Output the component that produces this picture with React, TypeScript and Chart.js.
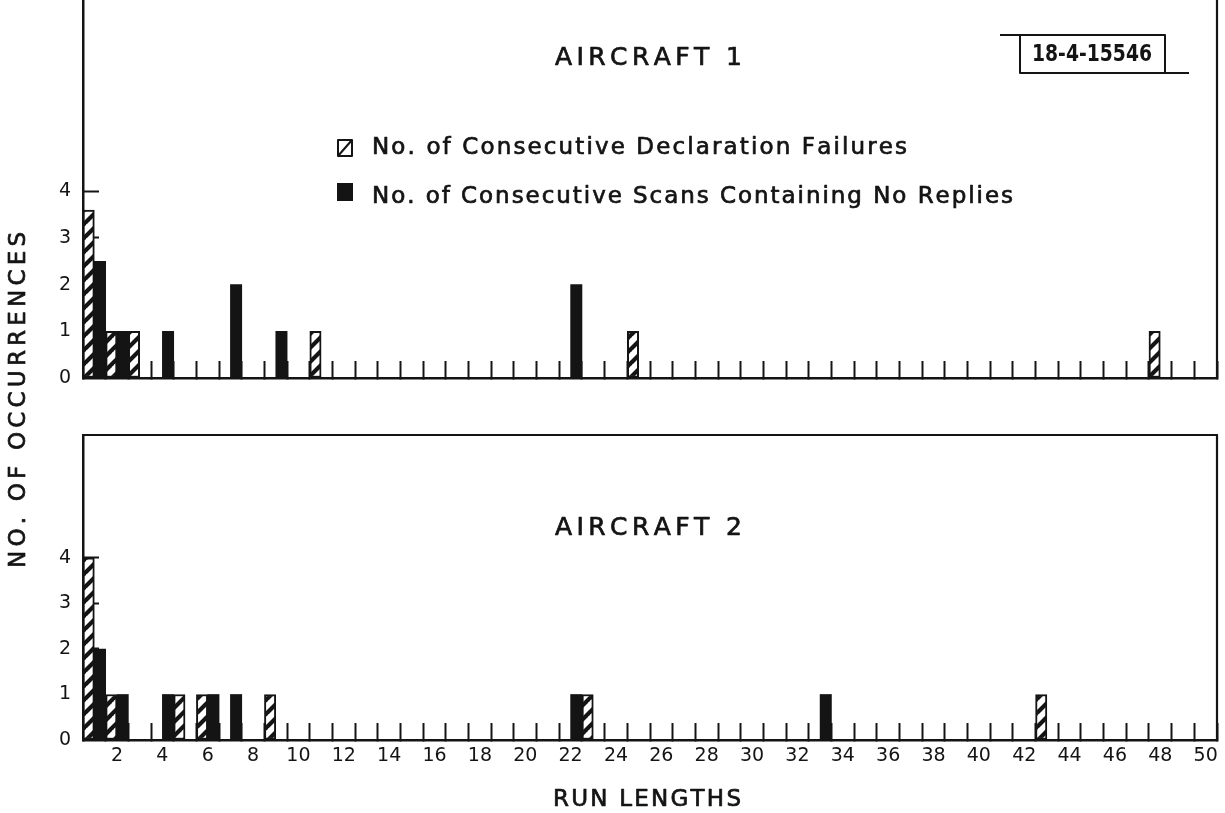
import React, { useEffect, useRef } from 'react';
import { Chart, registerables } from 'chart.js';

Chart.register(...registerables);

// One slot per run length along the horizontal axis
const runLengths = [
  1, 2, 3, 4, 5, 6, 7, 8, 9, 10, 11, 12, 13, 14, 15, 16, 17, 18, 19, 20, 21, 22, 23, 24, 25,
  26, 27, 28, 29, 30, 31, 32, 33, 34, 35, 36, 37, 38, 39, 40, 41, 42, 43, 44, 45, 46, 47, 48, 49, 50,
];
const runLengthTicks = [2, 4, 6, 8, 10, 12, 14, 16, 18, 20, 22, 24, 26, 28, 30, 32, 34, 36, 38, 40, 42, 44, 46, 48, 50];
const occurrenceTicks = [0, 1, 2, 3, 4];

// [run length, number of occurrences]
const aircraft1Failures: Array<[number, number]> = [[1, 3.6], [2, 1], [3, 1], [11, 1], [25, 1], [48, 1]];
const aircraft1NoReplies: Array<[number, number]> = [[1, 2.5], [2, 1], [4, 1], [7, 2], [9, 1], [22, 2]];
const aircraft2Failures: Array<[number, number]> = [[1, 4], [2, 1], [5, 1], [6, 1], [9, 1], [23, 1], [43, 1]];
const aircraft2NoReplies: Array<[number, number]> = [[1, 2], [2, 1], [4, 1], [6, 1], [7, 1], [22, 1], [33, 1]];

const chartTitles = ['AIRCRAFT 1', 'AIRCRAFT 2'];
const seriesLabels = ['No. of Consecutive Declaration Failures', 'No. of Consecutive Scans Containing No Replies'];
const yAxisTitle = 'NO. OF OCCURRENCES';
const xAxisTitle = 'RUN LENGTHS';
const drawingNumber = '18-4-15546';

const W = 1225;
const H = 813;
const PLOT_LEFT = 83;
const PLOT_RIGHT = 1217;
const INK = '#141414';
const FONT = "'DejaVu Sans', 'Noto Sans', sans-serif";

function toSeries(pairs: Array<[number, number]>): Array<number | null> {
  return runLengths.map((n) => {
    const hit = pairs.find(([r]) => r === n);
    return hit ? hit[1] : null;
  });
}

function makeHatch(canvas: HTMLCanvasElement): CanvasPattern | string {
  const s = 14;
  const tile = document.createElement('canvas');
  tile.width = s;
  tile.height = s;
  const g = tile.getContext('2d');
  const host = canvas.getContext('2d');
  if (!g || !host) return '#fff';
  g.fillStyle = '#fff';
  g.fillRect(0, 0, s, s);
  g.strokeStyle = INK;
  g.lineWidth = 4.2;
  g.beginPath();
  for (const k of [0, 1, 2]) {
    g.moveTo(-1, k * s + 1);
    g.lineTo(k * s + 1, -1);
  }
  g.stroke();
  return host.createPattern(tile, 'repeat') ?? '#fff';
}

// Lettering spread evenly between two x positions, with a slightly heavy pen
function spacedText(ctx: CanvasRenderingContext2D, text: string, x0: number, x1: number, y: number, font: string) {
  ctx.font = font;
  ctx.textAlign = 'left';
  ctx.textBaseline = 'middle';
  ctx.lineWidth = 0.7;
  ctx.lineJoin = 'round';
  const chars = [...text];
  const widths = chars.map((c) => ctx.measureText(c).width);
  const natural = widths.reduce((a, b) => a + b, 0);
  const gap = chars.length > 1 ? (x1 - x0 - natural) / (chars.length - 1) : 0;
  let x = x0;
  chars.forEach((c, i) => {
    ctx.fillText(c, x, y);
    ctx.strokeText(c, x, y);
    x += widths[i] + gap;
  });
}

// Text squeezed or stretched horizontally to a given width
function fittedText(ctx: CanvasRenderingContext2D, text: string, x0: number, x1: number, y: number, font: string) {
  ctx.save();
  ctx.font = font;
  ctx.textAlign = 'left';
  ctx.textBaseline = 'middle';
  const natural = ctx.measureText(text).width;
  ctx.translate(x0, y);
  ctx.scale((x1 - x0) / natural, 1);
  ctx.fillText(text, 0, 0);
  ctx.restore();
}

function makeFrame(topEdge: boolean) {
  return {
    id: 'frame',
    afterDraw(chart: Chart) {
      const { ctx, chartArea: a } = chart;
      ctx.save();
      ctx.strokeStyle = INK;
      ctx.lineWidth = 2.2;
      ctx.beginPath();
      ctx.moveTo(a.right, a.top);
      ctx.lineTo(a.right, a.bottom);
      if (topEdge) {
        ctx.moveTo(a.left - 1, a.top);
        ctx.lineTo(a.right + 1, a.top);
      }
      ctx.stroke();
      ctx.restore();
    },
  };
}

function makeDecor(draw: (ctx: CanvasRenderingContext2D, hatch: CanvasPattern | string) => void, hatch: CanvasPattern | string) {
  return {
    id: 'decor',
    afterDraw(chart: Chart) {
      const ctx = chart.ctx;
      ctx.save();
      ctx.fillStyle = INK;
      ctx.strokeStyle = INK;
      draw(ctx, hatch);
      ctx.restore();
    },
  };
}

const drawTopDecor = (ctx: CanvasRenderingContext2D) => {
  spacedText(ctx, chartTitles[0], 555, 742, 58, `25px ${FONT}`);

  // legend swatches
  ctx.lineWidth = 2;
  ctx.fillStyle = '#fff';
  ctx.fillRect(337, 139, 16, 18);
  ctx.beginPath();
  ctx.rect(338, 140, 14, 16);
  ctx.moveTo(338, 156);
  ctx.lineTo(352, 140);
  ctx.stroke();
  ctx.fillStyle = INK;
  ctx.fillRect(337, 183, 16, 18);
  spacedText(ctx, seriesLabels[0], 372, 907, 148, `23px ${FONT}`);
  spacedText(ctx, seriesLabels[1], 372, 1013, 197, `23px ${FONT}`);

  // drawing number stamp
  ctx.lineWidth = 2;
  ctx.beginPath();
  ctx.rect(1020, 35, 145, 38);
  ctx.moveTo(1000, 35);
  ctx.lineTo(1020, 35);
  ctx.moveTo(1165, 73);
  ctx.lineTo(1189, 73);
  ctx.stroke();
  fittedText(ctx, drawingNumber, 1032, 1152, 55, `bold 23px ${FONT}`);

  // axis titles
  ctx.save();
  ctx.translate(19, 568);
  ctx.rotate(-Math.PI / 2);
  spacedText(ctx, yAxisTitle, 0, 336, 0, `23px ${FONT}`);
  ctx.restore();
  spacedText(ctx, xAxisTitle, 553, 741, 800, `23px ${FONT}`);
};

const drawBottomDecor = (ctx: CanvasRenderingContext2D) => {
  spacedText(ctx, chartTitles[1], 555, 742, 528, `25px ${FONT}`);
};

type PanelSpec = {
  failures: Array<[number, number]>;
  noReplies: Array<[number, number]>;
  yMax: number;
  plotTop: number;
  plotBottom: number;
  showXLabels: boolean;
  topEdge: boolean;
  decor: (ctx: CanvasRenderingContext2D, hatch: CanvasPattern | string) => void;
};

function buildChart(canvas: HTMLCanvasElement, p: PanelSpec): Chart {
  const hatch = makeHatch(canvas);
  const tickFont = { family: FONT, size: 19, weight: 'normal' as const };
  return new Chart(canvas, {
    type: 'bar',
    data: {
      labels: runLengths.map(String),
      datasets: [
        {
          label: seriesLabels[0],
          data: toSeries(p.failures),
          backgroundColor: hatch as any,
          borderColor: INK,
          borderWidth: 2,
          borderSkipped: false,
        },
        {
          label: seriesLabels[1],
          data: toSeries(p.noReplies),
          backgroundColor: INK,
          borderWidth: 0,
        },
      ],
    },
    options: {
      responsive: false,
      animation: false,
      devicePixelRatio: 1,
      events: [],
      datasets: { bar: { categoryPercentage: 1, barPercentage: 1 } },
      layout: { padding: { left: 0, right: W - PLOT_RIGHT, top: p.plotTop, bottom: 0 } },
      plugins: { legend: { display: false }, tooltip: { enabled: false }, title: { display: false } },
      scales: {
        x: {
          type: 'category',
          offset: true,
          grid: {
            offset: true,
            display: true,
            drawOnChartArea: false,
            drawTicks: true,
            tickLength: -17,
            tickWidth: 2,
            tickColor: INK,
          },
          border: { display: true, color: INK, width: 2.5 },
          ticks: {
            display: p.showXLabels,
            autoSkip: false,
            maxRotation: 0,
            minRotation: 0,
            padding: 22,
            color: INK,
            font: tickFont,
            callback: (_v: any, i: number) => (runLengthTicks.includes(runLengths[i]) ? String(runLengths[i]) : ''),
          },
          afterFit: (s: any) => {
            s.height = H - p.plotBottom;
            s.paddingLeft = 0;
            s.paddingRight = 0;
          },
        },
        y: {
          type: 'linear',
          min: 0,
          max: p.yMax,
          grid: {
            display: true,
            drawOnChartArea: false,
            drawTicks: true,
            tickLength: -16,
            tickWidth: 2,
            tickColor: (c: any) => (c.tick && c.tick.value > 0 && c.tick.value <= 4 ? INK : 'rgba(0,0,0,0)'),
          },
          border: { display: true, color: INK, width: 2.5 },
          ticks: {
            stepSize: 1,
            includeBounds: false,
            padding: 28,
            color: INK,
            font: tickFont,
            callback: (v: any) => (occurrenceTicks.includes(Number(v)) ? String(v) : ''),
          },
          afterFit: (s: any) => {
            s.width = PLOT_LEFT;
            s.paddingTop = 0;
            s.paddingBottom = 0;
          },
        },
      },
    } as any,
    plugins: [makeFrame(p.topEdge), makeDecor(p.decor, hatch)],
  });
}

export default function App() {
  const topRef = useRef<HTMLCanvasElement>(null);
  const bottomRef = useRef<HTMLCanvasElement>(null);

  useEffect(() => {
    if (!topRef.current || !bottomRef.current) return;
    const charts = [
      buildChart(topRef.current, {
        failures: aircraft1Failures,
        noReplies: aircraft1NoReplies,
        yMax: 8.1,
        plotTop: 0,
        plotBottom: 378,
        showXLabels: false,
        topEdge: false,
        decor: drawTopDecor,
      }),
      buildChart(bottomRef.current, {
        failures: aircraft2Failures,
        noReplies: aircraft2NoReplies,
        yMax: 6.7,
        plotTop: 435,
        plotBottom: 740,
        showXLabels: true,
        topEdge: true,
        decor: drawBottomDecor,
      }),
    ];
    return () => charts.forEach((c) => c.destroy());
  }, []);

  return (
    <div style={{ position: 'absolute', left: 0, top: 0, width: W, height: H, background: '#fff' }}>
      <canvas ref={topRef} width={W} height={H} style={{ position: 'absolute', left: 0, top: 0 }} />
      <canvas ref={bottomRef} width={W} height={H} style={{ position: 'absolute', left: 0, top: 0 }} />
    </div>
  );
}
